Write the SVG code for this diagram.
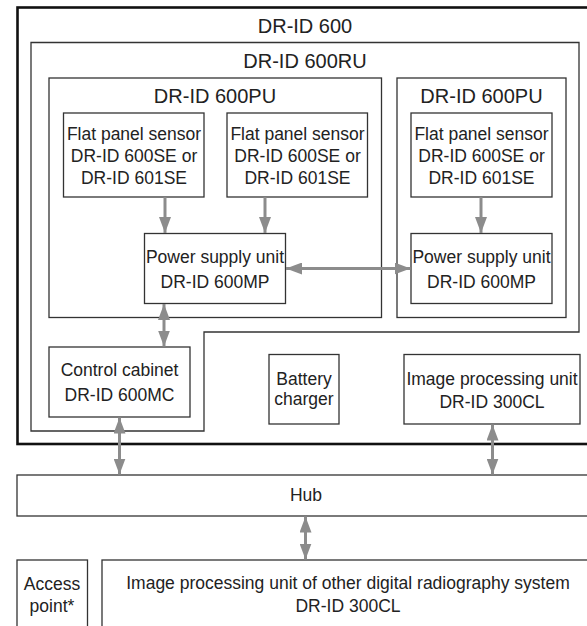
<svg xmlns="http://www.w3.org/2000/svg" width="587" height="626" viewBox="0 0 587 626">
<defs>
<style>
.box{fill:#fff;stroke:#333;stroke-width:1.3}
.outer{fill:#fff;stroke:#111;stroke-width:2.6}
.t{font-family:"Liberation Sans",Arial,sans-serif;font-size:17.5px;fill:#222;text-anchor:middle}
.h{font-family:"Liberation Sans",Arial,sans-serif;font-size:20px;fill:#222;text-anchor:middle}
.c{stroke:#8c8c8c;stroke-width:3;fill:none}
.ah{fill:#8c8c8c}
</style>
<marker id="arr" viewBox="0 0 16 12" refX="16" refY="6" markerWidth="16" markerHeight="12" markerUnits="userSpaceOnUse" orient="auto-start-reverse">
<path d="M0,0 L16,6 L0,12 Z" class="ah"/>
</marker>
</defs>
<rect width="587" height="626" fill="#fff"/>
<g id="dr-id-600">
<rect class="outer" x="17.5" y="7.5" width="580" height="436.5"/>
<text class="h" x="305" y="33">DR-ID 600</text>
</g>
<g id="dr-id-600ru">
<path class="box" d="M31,42.5 H579 V332 H204 V431 H31 Z"/>
<text class="h" x="305" y="68">DR-ID 600RU</text>
</g>
<g id="pu1">
<rect class="box" x="49" y="78" width="332.5" height="239.5"/>
<text class="h" x="215" y="103">DR-ID 600PU</text>
</g>
<g id="pu2">
<rect class="box" x="397" y="78" width="169" height="239.5"/>
<text class="h" x="481.5" y="103">DR-ID 600PU</text>
</g>
<g id="sensor1">
<rect class="box" x="63.5" y="113" width="140.5" height="84"/>
<text class="t" x="134" y="139.5">Flat panel sensor</text>
<text class="t" x="134" y="162">DR-ID 600SE or</text>
<text class="t" x="134" y="184">DR-ID 601SE</text>
</g>
<g id="sensor2">
<rect class="box" x="227" y="113" width="140.5" height="84"/>
<text class="t" x="297.5" y="139.5">Flat panel sensor</text>
<text class="t" x="297.5" y="162">DR-ID 600SE or</text>
<text class="t" x="297.5" y="184">DR-ID 601SE</text>
</g>
<g id="sensor3">
<rect class="box" x="411" y="113" width="141" height="84"/>
<text class="t" x="481.5" y="139.5">Flat panel sensor</text>
<text class="t" x="481.5" y="162">DR-ID 600SE or</text>
<text class="t" x="481.5" y="184">DR-ID 601SE</text>
</g>
<g id="psu1">
<rect class="box" x="144.5" y="233.5" width="141" height="70"/>
<text class="t" x="215" y="263">Power supply unit</text>
<text class="t" x="215" y="287.5">DR-ID 600MP</text>
</g>
<g id="psu2">
<rect class="box" x="411" y="233.5" width="141" height="70"/>
<text class="t" x="481.5" y="263">Power supply unit</text>
<text class="t" x="481.5" y="287.5">DR-ID 600MP</text>
</g>
<g id="control-cabinet">
<rect class="box" x="49" y="347" width="141" height="70"/>
<text class="t" x="119.5" y="376">Control cabinet</text>
<text class="t" x="119.5" y="401">DR-ID 600MC</text>
</g>
<g id="battery-charger">
<rect class="box" x="269" y="354.5" width="70" height="69.5"/>
<text class="t" x="304" y="385">Battery</text>
<text class="t" x="304" y="405">charger</text>
</g>
<g id="ipu">
<rect class="box" x="404" y="354.5" width="176" height="69.5"/>
<text class="t" x="492" y="385">Image processing unit</text>
<text class="t" x="492" y="408">DR-ID 300CL</text>
</g>
<g id="hub">
<rect class="box" x="17" y="475" width="580" height="41"/>
<text class="t" x="306" y="501">Hub</text>
</g>
<g id="access-point">
<rect class="box" x="17" y="560" width="70.5" height="80"/>
<text class="t" x="52" y="590">Access</text>
<text class="t" x="52" y="612">point*</text>
</g>
<g id="other-ipu">
<rect class="box" x="102" y="560" width="500" height="80"/>
<text class="t" x="348" y="588.5">Image processing unit of other digital radiography system</text>
<text class="t" x="348" y="612">DR-ID 300CL</text>
</g>
<g id="connectors">
<line class="c" x1="165" y1="197" x2="165" y2="233" marker-end="url(#arr)"/>
<line class="c" x1="265" y1="197" x2="265" y2="233" marker-end="url(#arr)"/>
<line class="c" x1="481" y1="197" x2="481" y2="233" marker-end="url(#arr)"/>
<line class="c" x1="286" y1="268.5" x2="410.5" y2="268.5" marker-start="url(#arr)" marker-end="url(#arr)"/>
<line class="c" x1="164" y1="304" x2="164" y2="346.5" marker-start="url(#arr)" marker-end="url(#arr)"/>
<line class="c" x1="119.5" y1="417.5" x2="119.5" y2="474.5" marker-start="url(#arr)" marker-end="url(#arr)"/>
<line class="c" x1="492.5" y1="424.5" x2="492.5" y2="474.5" marker-start="url(#arr)" marker-end="url(#arr)"/>
<line class="c" x1="305.5" y1="516.5" x2="305.5" y2="559.5" marker-start="url(#arr)" marker-end="url(#arr)"/>
</g>
</svg>
